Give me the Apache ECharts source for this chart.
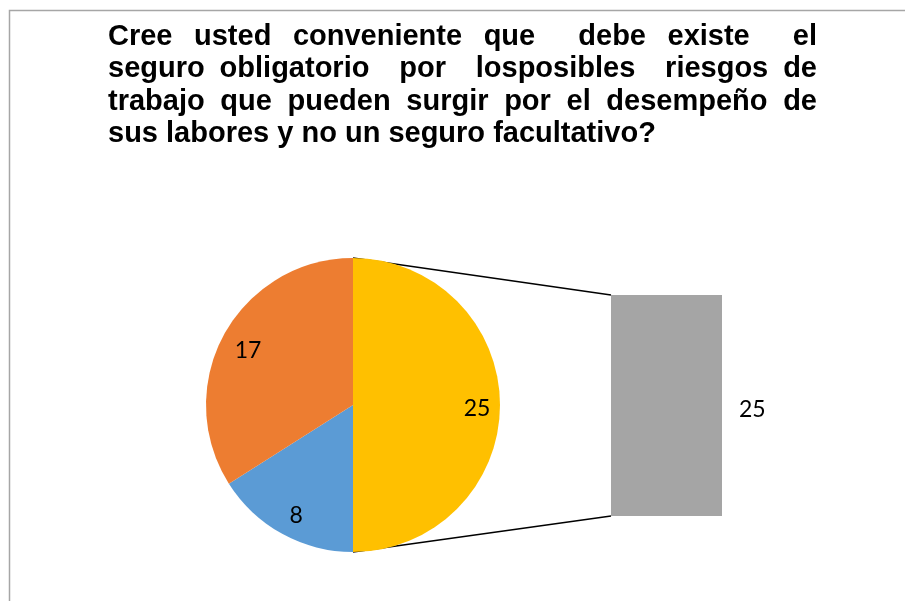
<!DOCTYPE html>
<html>
<head>
<meta charset="utf-8">
<script src="https://cdn.jsdelivr.net/npm/echarts@6/dist/echarts.min.js"></script>
<style>
  html, body { margin: 0; padding: 0; background: #fff; }
  #chart { width: 905px; height: 601px; }
</style>
</head>
<body>
<div id="chart"></div>
<script>
  // datos del gráfico (circular con barra)
  var titleLines = [
    'Cree usted conveniente que  debe existe  el',
    'seguro obligatorio  por  losposibles  riesgos de',
    'trabajo que pueden surgir por el desempeño de',
    'sus labores y no un seguro facultativo?'
  ];
  var pieNames = ['Otros', 'B', 'A'];
  var pieValues = [25, 8, 17];
  var pieColors = ['#FFC000', '#5B9BD5', '#ED7D31'];
  var barNames = ['Otros'];
  var barValues = [25];

  var cx = 353, cy = 405, r = 147;
  var gridLeft = 611, gridTop = 295, gridW = 111, gridH = 221;

  var titleFont = 'bold 29px "Liberation Sans", Arial, sans-serif';
  var titleLeft = 108, titleRight = 817;

  // justificar el título: cada espacio es un hueco (los dobles cuentan doble)
  function titleWords() {
    var ctx = document.createElement('canvas').getContext('2d');
    ctx.font = titleFont;
    var els = [];
    var spaceW = ctx.measureText(' ').width;
    for (var i = 0; i < titleLines.length; i++) {
      var words = titleLines[i].split(' ');
      var widths = words.map(function (w) { return ctx.measureText(w).width; });
      var total = widths.reduce(function (a, b) { return a + b; }, 0);
      var last = i === titleLines.length - 1;
      var gap = last ? spaceW : (titleRight - titleLeft - total) / (words.length - 1);
      var x = titleLeft;
      for (var j = 0; j < words.length; j++) {
        if (words[j]) {
          els.push({
            type: 'text',
            left: x,
            top: 22 + i * 32.5,
            style: { text: words[j], font: titleFont, fill: '#000' }
          });
        }
        x += widths[j] + gap;
      }
    }
    return els;
  }

  var pieData = [];
  for (var i = 0; i < pieValues.length; i++) {
    pieData.push({ name: pieNames[i], value: pieValues[i], itemStyle: { color: pieColors[i] } });
  }

  var myChart = echarts.init(document.getElementById('chart'));

  var option = {
    backgroundColor: '#fff',
    animation: false,
    grid: { left: gridLeft, top: gridTop, width: gridW, height: gridH },
    xAxis: { type: 'category', data: barNames, show: false },
    yAxis: { type: 'value', min: 0, max: 25, show: false },
    series: [{
      type: 'pie',
      center: [cx, cy],
      radius: [0, r],
      startAngle: 90,
      clockwise: true,
      z: 3,
      silent: true,
      label: { show: false },
      labelLine: { show: false },
      data: pieData
    }, {
      // anillo transparente solo para colocar las etiquetas
      type: 'pie',
      center: [cx, cy],
      radius: [r * 0.62, r],
      startAngle: 90,
      clockwise: true,
      z: 4,
      silent: true,
      itemStyle: { color: 'rgba(0,0,0,0)' },
      label: {
        show: true,
        position: 'inside',
        formatter: '{c}',
        color: '#000',
        fontFamily: 'Lato',
        fontSize: 23,
        offset: [2, 4]
      },
      labelLine: { show: false },
      data: pieValues.slice()
    }, {
      type: 'bar',
      data: barValues,
      barWidth: '100%',
      itemStyle: { color: '#A5A5A5' },
      label: {
        show: true,
        position: 'right',
        distance: 17,
        color: '#000',
        fontFamily: 'Lato',
        fontSize: 23,
        offset: [0, 4]
      }
    }]
  };

  myChart.setOption(option);

  // líneas de conexión y borde
  var barTop = myChart.convertToPixel({ yAxisIndex: 0 }, barValues[0]);
  var barBottom = myChart.convertToPixel({ yAxisIndex: 0 }, 0);
  var graphics = titleWords();
  graphics.push({
    type: 'polyline', z: 0,
    shape: { points: [[cx, cy - r], [gridLeft, barTop]] },
    style: { stroke: '#000', lineWidth: 1.5, fill: null }
  });
  graphics.push({
    type: 'polyline', z: 0,
    shape: { points: [[cx, cy + r], [gridLeft, barBottom]] },
    style: { stroke: '#000', lineWidth: 1.5, fill: null }
  });
  graphics.push({
    type: 'polyline', z: 0,
    shape: { points: [[9.5, 601], [9.5, 10.5], [905, 10.5]] },
    style: { stroke: '#A6A6A6', lineWidth: 1.5, fill: null }
  });
  myChart.setOption({ graphic: graphics });
</script>
</body>
</html>
